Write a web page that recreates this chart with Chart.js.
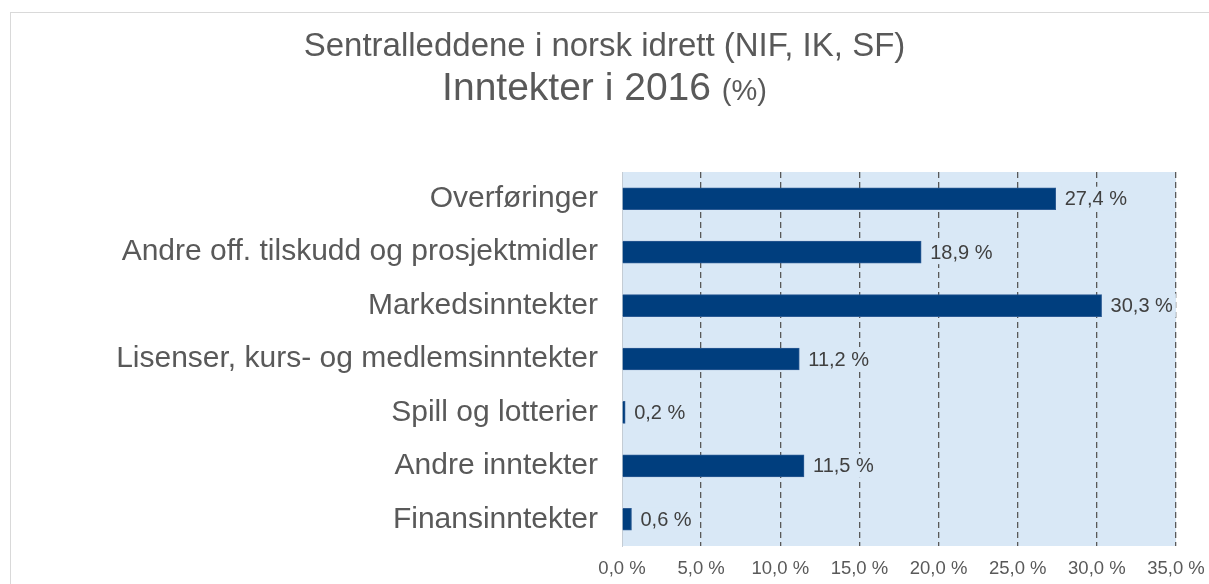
<!DOCTYPE html>
<html lang="no">
<head>
<meta charset="utf-8">
<title>Sentralleddene i norsk idrett - Inntekter i 2016</title>
<script src="https://cdn.jsdelivr.net/npm/chart.js@4/dist/chart.umd.min.js"></script>
<style>
  html, body { margin: 0; padding: 0; background: #fff; }
  #wrap { width: 1209px; height: 584px; position: relative; }
</style>
</head>
<body>
<div id="wrap"><canvas id="grafInntekter"></canvas></div>
<script>
const kategorier = [
  'Overføringer',
  'Andre off. tilskudd og prosjektmidler',
  'Markedsinntekter',
  'Lisenser, kurs- og medlemsinntekter',
  'Spill og lotterier',
  'Andre inntekter',
  'Finansinntekter'
];
const andeler = [27.4, 18.9, 30.3, 11.2, 0.2, 11.5, 0.6];
const aksemin = 0;
const aksemax = 35;
const aksesteg = 5;
const tittel1 = 'Sentralleddene i norsk idrett (NIF, IK, SF)';
const tittel2 = 'Inntekter i 2016';
const tittelEnhet = '(%)';

const fontFam = '"Liberation Sans", Arial, sans-serif';
const plotFarge = '#d9e8f6';
const gra = '#595959';

const fmt = v => v.toFixed(1).replace('.', ',') + ' %';

// bakgrunn, ramme og plottflate
const bakgrunn = {
  id: 'bakgrunn',
  beforeDraw(chart) {
    const { ctx, chartArea: a } = chart;
    ctx.save();
    ctx.fillStyle = '#fff';
    ctx.fillRect(0, 0, chart.width, chart.height);
    ctx.strokeStyle = '#d9d9d9';
    ctx.lineWidth = 1;
    ctx.strokeRect(10.5, 12.5, chart.width + 20, chart.height + 20);
    ctx.fillStyle = plotFarge;
    ctx.fillRect(a.left, a.top, a.right - a.left, a.bottom - a.top);
    ctx.restore();
  }
};

// verdietiketter ved enden av hver stolpe
const etiketter = {
  id: 'etiketter',
  afterDatasetsDraw(chart) {
    const { ctx } = chart;
    const meta = chart.getDatasetMeta(0);
    ctx.save();
    ctx.font = '20px ' + fontFam;
    ctx.textBaseline = 'middle';
    ctx.textAlign = 'left';
    meta.data.forEach((bar, i) => {
      const txt = fmt(andeler[i]);
      const x = bar.x + 9;
      const w = ctx.measureText(txt).width;
      ctx.fillStyle = plotFarge;
      ctx.fillRect(x - 3, bar.y - 12, w + 6, 24);
      ctx.fillStyle = '#404040';
      ctx.fillText(txt, x, bar.y + 1);
    });
    ctx.restore();
  }
};

// tittel i to linjer, enheten litt mindre
const tittel = {
  id: 'tittel',
  afterDraw(chart) {
    const { ctx } = chart;
    const cx = chart.width / 2;
    ctx.save();
    ctx.fillStyle = gra;
    ctx.textBaseline = 'alphabetic';
    ctx.textAlign = 'center';
    ctx.font = '33px ' + fontFam;
    ctx.fillText(tittel1, cx, 56);
    ctx.textAlign = 'left';
    ctx.font = '39px ' + fontFam;
    const w1 = ctx.measureText(tittel2 + ' ').width;
    ctx.font = '29px ' + fontFam;
    const w2 = ctx.measureText(tittelEnhet).width;
    const x0 = cx - (w1 + w2) / 2;
    ctx.font = '39px ' + fontFam;
    ctx.fillText(tittel2, x0, 100);
    ctx.font = '29px ' + fontFam;
    ctx.fillText(tittelEnhet, x0 + w1, 100);
    ctx.restore();
  }
};

const ctx = document.getElementById('grafInntekter').getContext('2d');
new Chart(ctx, {
  type: 'bar',
  data: {
    labels: kategorier,
    datasets: [{
      data: andeler,
      backgroundColor: '#003e7e',
      borderColor: '#2b5a94',
      borderWidth: 1,
      barThickness: 22
    }]
  },
  options: {
    indexAxis: 'y',
    responsive: true,
    maintainAspectRatio: false,
    animation: false,
    layout: { padding: { top: 172, right: 33, bottom: 0, left: 0 } },
    plugins: {
      legend: { display: false },
      title: { display: false },
      tooltip: { enabled: false }
    },
    scales: {
      x: {
        min: aksemin,
        max: aksemax,
        afterFit: s => { s.height = 38; s.paddingLeft = 0; s.paddingRight = 0; },
        border: { display: false, dash: [6, 4] },
        grid: {
          drawTicks: false,
          color: c => c.tick && c.tick.value === 0 ? 'rgba(0,0,0,0)' : '#595959',
          lineWidth: 1.3
        },
        ticks: {
          stepSize: aksesteg,
          padding: 12,
          color: gra,
          font: { family: fontFam, size: 18.5 },
          callback: v => fmt(v)
        }
      },
      y: {
        afterFit: s => { s.width = 622; s.paddingTop = 0; s.paddingBottom = 0; },
        border: { display: true, color: '#c4ccd4', width: 1 },
        grid: { display: false, drawTicks: false },
        ticks: {
          padding: 24,
          color: gra,
          font: { family: fontFam, size: 30 }
        }
      }
    }
  },
  plugins: [bakgrunn, etiketter, tittel]
});
</script>
</body>
</html>
